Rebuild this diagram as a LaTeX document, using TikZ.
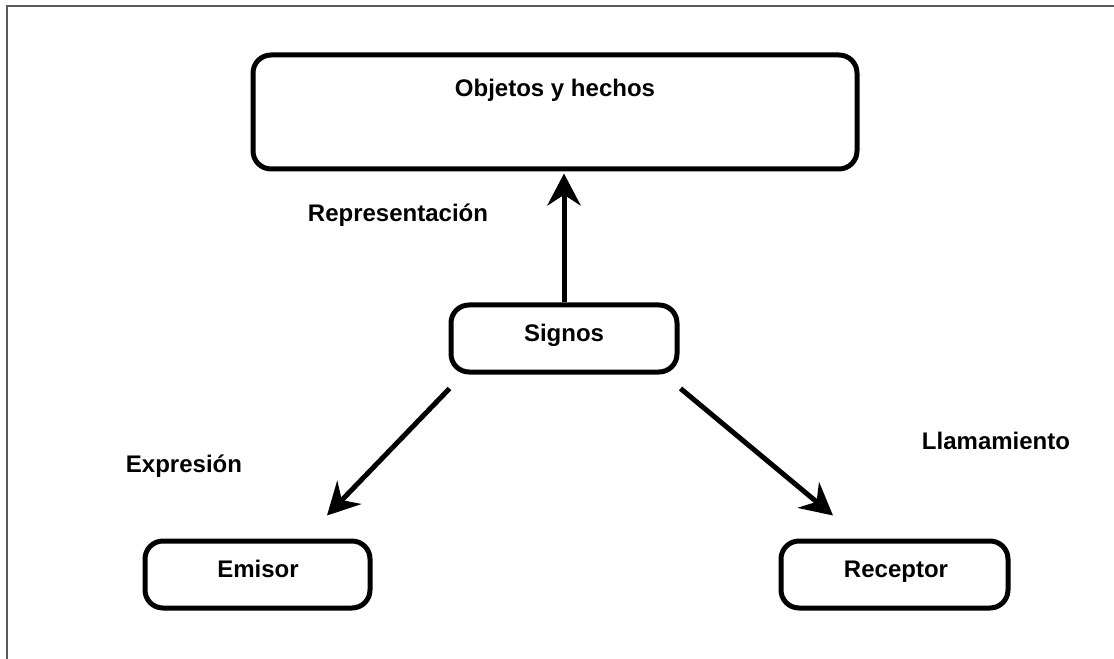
\documentclass[tikz,border=0pt]{standalone}
\usepackage{fontspec}
\setmainfont{Liberation Sans}
\usetikzlibrary{arrows.meta}
\definecolor{framegray}{HTML}{5A5A5A}
\begin{document}
\begin{tikzpicture}[x=0.75pt,y=-0.75pt,
  box/.style={draw=black,line width=3.75pt,rounded corners=13.5pt,fill=white,inner sep=0pt},
  lbl/.style={font=\bfseries\fontsize{18pt}{20pt}\selectfont,inner sep=0pt,anchor=base},
  flow/.style={line width=3.75pt,-{Stealth[length=24pt,width=25pt,inset=8pt]}}]
  \useasboundingbox (0,0) rectangle (1114,659);
  % outer frame (top and left edges)
  \draw[framegray,line width=1.5pt] (6.5,659) -- (6.5,6) -- (1114,6);
  % boxes (sizes in px: 604x114, 226x67, 225x67, 227x67)
  \node[box,minimum width=453pt,minimum height=85.5pt] (objbox) at (555,112) {};
  \node[box,minimum width=169.5pt,minimum height=50.25pt] (sigbox) at (564,338.5) {};
  \node[box,minimum width=168.75pt,minimum height=50.25pt] (emibox) at (257.5,574.5) {};
  \node[box,minimum width=170.25pt,minimum height=50.25pt] (recbox) at (894.5,574.5) {};
  % connector ends off the box corners
  \coordinate (sigL) at ([shift={(1,14)}]sigbox.south west);
  \coordinate (sigR) at ([shift={(1,14)}]sigbox.south east);
  \coordinate (emiT) at ([shift={(69.5,-23)}]emibox.north);
  \coordinate (recT) at ([shift={(-61.5,-23)}]recbox.north);
  \coordinate (objB) at ([yshift=-1.5pt]sigbox.north |- objbox.south);
  % texts
  \node[lbl] (obj) at (555,97) {Objetos y hechos};
  \node[lbl] (sig) at (564,342) {Signos};
  \node[lbl] (emi) at (258,577) {Emisor};
  \node[lbl] (rec) at (896,577) {Receptor};
  \node[lbl] (rep) at (398,222) {Representación};
  \node[lbl] (exp) at (184,472) {Expresión};
  \node[lbl] (lla) at (996,449) {Llamamiento};
  % arrows
  \draw[flow] (sigbox.north) -- (objB);
  \draw[flow] (sigL) -- (emiT);
  \draw[flow] (sigR) -- (recT);
\end{tikzpicture}
\end{document}
